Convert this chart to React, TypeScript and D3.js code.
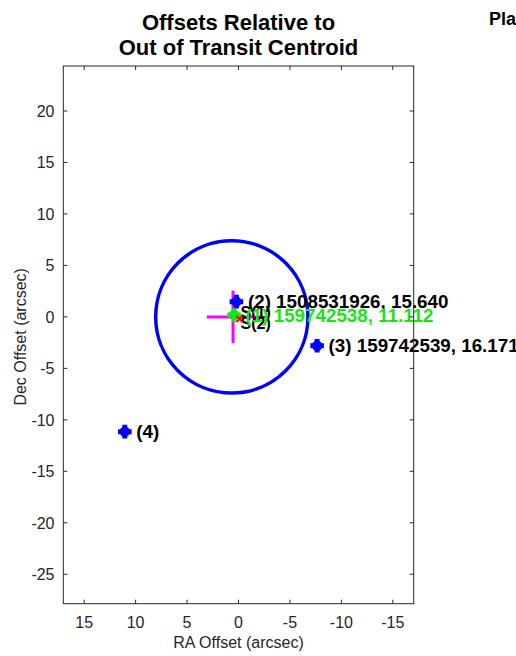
import React from "react";
import * as d3 from "d3";

const W = 516;
const H = 656;

const titleLines = ["Offsets Relative to", "Out of Transit Centroid"];
const xTicks = [15, 10, 5, 0, -5, -10, -15];
const yTicks = [20, 15, 10, 5, 0, -5, -10, -15, -20, -25];

// stars (RA offset, Dec offset in arcsec)
const starRa = [0.43, 0.2, -7.64, 11.05];
const starDec = [0.18, 1.48, -2.8, -11.15];
const starLabels = ["(1) 159742538, 11.112", "(2) 1508531926, 15.640", "(3) 159742539, 16.171", "(4)"];
const starColors = ["#16e616", "#0000ff", "#0000ff", "#0000ff"];
const labelColors = ["#16e616", "#000000", "#000000", "#000000"];

// centroid (in-transit difference) with error bars
const centroidRa = [0.53];
const centroidDec = [0.0];
const centroidErr = [2.55];

// 3-sigma circle
const circleRa = [0.65];
const circleDec = [0.0];
const circleR = [7.4];

// source markers
const srcRa = [-0.1];
const srcDec = [-0.2];
const srcLabels = ["S(1)", "S(2)"];

const xDomain = [17.03, -17.03];
const yDomain = [24.37, -27.86];

export default function App() {
  const left = 63.3, right = 413.7, top = 66, bottom = 603.7;
  const x = d3.scaleLinear().domain(xDomain).range([left, right]);
  const y = d3.scaleLinear().domain(yDomain).range([top, bottom]);
  const pxPerUnit = Math.abs(x(1) - x(0));
  const font = "'Liberation Sans', Arial, Helvetica, sans-serif";
  const axisColor = "#262626";

  const markerPath = (cx: number, cy: number) => {
    const a = 6.8, w = 2.5;
    return `M${cx - w},${cy - a}L${cx + w},${cy - a}L${cx + w},${cy - w}L${cx + a},${cy - w}L${cx + a},${cy + w}L${cx + w},${cy + w}L${cx + w},${cy + a}L${cx - w},${cy + a}L${cx - w},${cy + w}L${cx - a},${cy + w}L${cx - a},${cy - w}L${cx - w},${cy - w}Z`;
  };

  const order = [1, 2, 3, 0];

  return (
    <svg width={W} height={H} style={{ position: "absolute", left: 0, top: 0, background: "#fff" }} fontFamily={font}>
      <rect x={0} y={0} width={W} height={H} fill="#fff" />
      {/* title */}
      {titleLines.map((t, i) => (
        <text key={t} x={(left + right) / 2} y={30 + i * 24.5} textAnchor="middle" fontSize={22} fontWeight="bold" fill="#000">
          {t}
        </text>
      ))}
      <text x={489} y={25} fontSize={18} fontWeight="bold" fill="#000">Planet Candidate</text>

      {/* circle */}
      {circleRa.map((r, i) => (
        <circle key={"c" + i} cx={x(r)} cy={y(circleDec[i])} r={circleR[i] * pxPerUnit} fill="none" stroke="#0000ff" strokeWidth={3.5} />
      ))}

      {/* centroid cross */}
      {centroidRa.map((r, i) => (
        <g key={"cr" + i} stroke="#ff00ff" strokeWidth={3}>
          <line x1={x(r - centroidErr[i])} x2={x(r + centroidErr[i])} y1={y(centroidDec[i])} y2={y(centroidDec[i])} />
          <line x1={x(r)} x2={x(r)} y1={y(centroidDec[i] - centroidErr[i])} y2={y(centroidDec[i] + centroidErr[i])} />
        </g>
      ))}

      {/* source labels */}
      {srcLabels.map((s, i) => (
        <text key={s} x={x(srcRa[0]) + 1} y={y(srcDec[0]) - 1 + i * 11} fontSize={16} fontWeight="bold" fill="#000">
          {s}
        </text>
      ))}

      {/* stars */}
      {order.map((i) => (
        <g key={"s" + i}>
          <circle cx={x(starRa[i])} cy={y(starDec[i])} r={5.2} fill={starColors[i]} />
          <path d={markerPath(x(starRa[i]), y(starDec[i]))} fill={starColors[i]} />
        </g>
      ))}
      {srcRa.map((r, i) => (
        <path key={"sx" + i} d={`M${x(r) - 3},${y(srcDec[i]) - 3}L${x(r) + 3},${y(srcDec[i]) + 3}M${x(r) - 3},${y(srcDec[i]) + 3}L${x(r) + 3},${y(srcDec[i]) - 3}`} stroke="#ff0000" strokeWidth={2} />
      ))}
      {order.map((i) => (
        <text key={"l" + i} x={x(starRa[i]) + 11.5} y={y(starDec[i]) + 6.5} fontSize={18.8} fontWeight="bold" fill={labelColors[i]}>
          {starLabels[i]}
        </text>
      ))}

      {/* frame */}
      <rect x={left} y={top} width={right - left} height={bottom - top} fill="none" stroke={axisColor} strokeWidth={1} />
      {xTicks.map((t) => (
        <g key={"xt" + t} stroke={axisColor}>
          <line x1={x(t)} x2={x(t)} y1={bottom} y2={bottom - 4} />
          <line x1={x(t)} x2={x(t)} y1={top} y2={top + 4} />
        </g>
      ))}
      {yTicks.map((t) => (
        <g key={"yt" + t} stroke={axisColor}>
          <line x1={left} x2={left + 4} y1={y(t)} y2={y(t)} />
          <line x1={right} x2={right - 4} y1={y(t)} y2={y(t)} />
        </g>
      ))}
      {xTicks.map((t) => (
        <text key={"xl" + t} x={x(t)} y={627.5} textAnchor="middle" fontSize={16} fill={axisColor}>
          {t}
        </text>
      ))}
      {yTicks.map((t) => (
        <text key={"yl" + t} x={54.5} y={y(t) + 6} textAnchor="end" fontSize={16} fill={axisColor}>
          {t}
        </text>
      ))}
      <text x={(left + right) / 2} y={648} textAnchor="middle" fontSize={16} fill={axisColor}>
        RA Offset (arcsec)
      </text>
      <text transform={`translate(26,${(top + bottom) / 2 + 2}) rotate(-90)`} textAnchor="middle" fontSize={16} fill={axisColor}>
        Dec Offset (arcsec)
      </text>
    </svg>
  );
}
